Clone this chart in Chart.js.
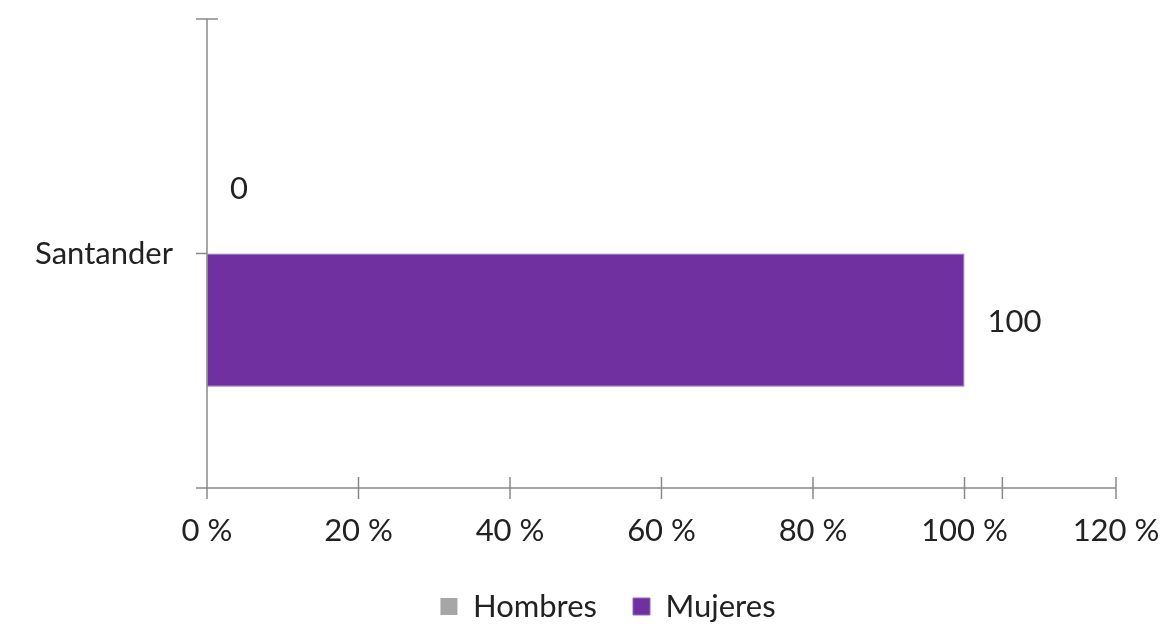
<!DOCTYPE html>
<html>
<head>
<meta charset="utf-8">
<script src="https://cdn.jsdelivr.net/npm/chart.js@4.4.0/dist/chart.umd.min.js"></script>
<style>
  html, body { margin: 0; padding: 0; background: #fff; }
  #wrap { width: 1164px; height: 624px; }
</style>
</head>
<body>
<div id="wrap"><canvas id="chart" width="1164" height="624"></canvas></div>
<script>
// data
const categories = ['Santander'];
const seriesNames = ['Hombres', 'Mujeres'];
const hombres = [0];
const mujeres = [100];
const xTicks = [0, 20, 40, 60, 80, 100, 105, 120];
const xTickLabels = ['0 %', '20 %', '40 %', '60 %', '80 %', '100 %', '', '120 %'];

const AXIS = '#8a8a8a';
const FONT = 'Lato, "Open Sans", sans-serif';
const FSIZE = 31;

// axis lines + crossing tick marks like the original
const axisPlugin = {
    id: 'axisLines',
    afterDraw(chart) {
        const { ctx, chartArea: a, scales } = chart;
        const t = 11;
        ctx.save();
        ctx.strokeStyle = AXIS;
        ctx.lineWidth = 1.5;
        ctx.beginPath();
        // y axis
        ctx.moveTo(a.left, a.top);
        ctx.lineTo(a.left, a.bottom + t);
        // x axis
        ctx.moveTo(a.left - t, a.bottom);
        ctx.lineTo(a.right, a.bottom);
        // top tick of y axis
        ctx.moveTo(a.left - t, a.top);
        ctx.lineTo(a.left + t, a.top);
        // category tick
        const cy = scales.y.getPixelForValue(0);
        ctx.moveTo(a.left - t, cy);
        ctx.lineTo(a.left, cy);
        // x ticks
        xTicks.forEach(v => {
            if (v === 0) return;
            const px = scales.x.getPixelForValue(v);
            ctx.moveTo(px, a.bottom - t);
            ctx.lineTo(px, a.bottom + t);
        });
        ctx.stroke();
        ctx.restore();
    }
};

// value labels to the right of each bar
const valueLabels = {
    id: 'valueLabels',
    afterDatasetsDraw(chart) {
        const { ctx } = chart;
        ctx.save();
        ctx.font = FSIZE + 'px ' + FONT;
        ctx.fillStyle = '#222';
        ctx.textBaseline = 'middle';
        ctx.textAlign = 'left';
        chart.data.datasets.forEach((ds, i) => {
            chart.getDatasetMeta(i).data.forEach((bar, j) => {
                ctx.fillText(String(ds.data[j]), bar.x + 23, bar.y + 2);
            });
        });
        ctx.restore();
    }
};

// legend in the original sits a bit right of centre
const legendShift = {
    id: 'legendShift',
    afterLayout(chart) {
        if (!chart.legend) return;
        chart.legend.left += 50;
        chart.legend.right += 50;
    }
};

function noPad(scale) {
    scale.paddingTop = 0;
    scale.paddingBottom = 0;
    scale.paddingLeft = 0;
    scale.paddingRight = 0;
}

new Chart(document.getElementById('chart'), {
    type: 'bar',
    data: {
        labels: categories,
        datasets: [
            {
                label: seriesNames[0],
                data: hombres,
                backgroundColor: '#A6A6A6',
                borderWidth: 0
            },
            {
                label: seriesNames[1],
                data: mujeres,
                backgroundColor: '#7030A0',
                borderColor: '#9566BE',
                borderWidth: 1,
                borderSkipped: false
            }
        ]
    },
    options: {
        indexAxis: 'y',
        responsive: false,
        animation: false,
        layout: { padding: { top: 19, right: 48, left: 0, bottom: -8 } },
        datasets: {
            bar: { categoryPercentage: 0.568, barPercentage: 1 }
        },
        scales: {
            x: {
                min: 0,
                max: 120,
                afterBuildTicks: scale => {
                    scale.ticks = xTicks.map(v => ({ value: v }));
                },
                afterFit: scale => { scale.height = 67; noPad(scale); },
                grid: { display: false },
                border: { display: false },
                ticks: {
                    padding: 16,
                    maxRotation: 0,
                    color: '#222',
                    font: { family: FONT, size: FSIZE },
                    callback: (v) => xTickLabels[xTicks.indexOf(v)]
                }
            },
            y: {
                afterFit: scale => { scale.width = 207; noPad(scale); },
                grid: { display: false },
                border: { display: false },
                ticks: {
                    padding: 26,
                    color: '#222',
                    font: { family: FONT, size: FSIZE }
                }
            }
        },
        plugins: {
            legend: {
                position: 'bottom',
                labels: {
                    boxWidth: 17,
                    boxHeight: 17,
                    padding: 36,
                    color: '#222',
                    font: { family: FONT, size: FSIZE }
                }
            },
            tooltip: { enabled: false }
        }
    },
    plugins: [axisPlugin, valueLabels, legendShift]
});
</script>
</body>
</html>
